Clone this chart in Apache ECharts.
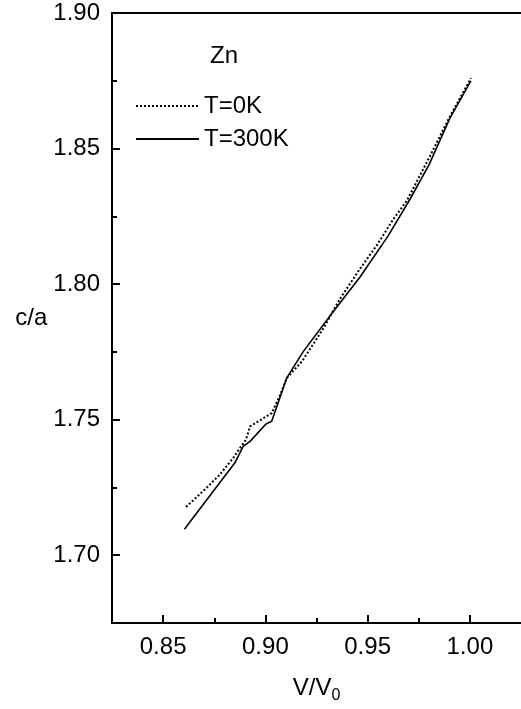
<!DOCTYPE html>
<html>
<head>
<meta charset="utf-8">
<script src="https://cdn.jsdelivr.net/npm/echarts@6/dist/echarts.min.js"></script>
<style>
  html, body { margin: 0; padding: 0; background: #fff; }
  #chart { width: 521px; height: 709px; }
</style>
</head>
<body>
<div id="chart"></div>
<script>
// c/a ratio of Zn versus relative volume V/V0
const t0X   = [0.8612, 0.8713, 0.8778, 0.8843, 0.8876, 0.8905, 0.8925, 0.9031, 0.9072, 0.9104, 0.9178, 0.9283, 0.9365, 0.9463, 0.9544, 0.9626, 0.9691, 0.9800, 0.9900, 1.0005];
const t0Y   = [1.7178, 1.7249, 1.7298, 1.7359, 1.7396, 1.7426, 1.7475, 1.7524, 1.7591, 1.7653, 1.7714, 1.7836, 1.7946, 1.8057, 1.8142, 1.8240, 1.8307, 1.8465, 1.8615, 1.8760];
const t300X = [0.8604, 0.8851, 0.8892, 0.8925, 0.9003, 0.9031, 0.9104, 0.9185, 0.9324, 0.9463, 0.9601, 0.9707, 0.9800, 0.9903, 1.0005];
const t300Y = [1.7096, 1.7341, 1.7402, 1.7420, 1.7484, 1.7494, 1.7653, 1.7751, 1.7891, 1.8026, 1.8179, 1.8313, 1.8440, 1.8613, 1.8750];

const xMajor = [0.85, 0.90, 0.95, 1.00];
const xMinor = [0.875, 0.925, 0.975];
const yMajor = [1.70, 1.75, 1.80, 1.85, 1.90];
const yMinor = [1.725, 1.775, 1.825, 1.875];

const seriesNames = ['T=0K', 'T=300K'];

const FONT = '"Liberation Sans", Arial, sans-serif';
const FS = 24;
const AX = { lineStyle: { color: '#000', width: 2 } };

const zip = (xs, ys) => xs.map((x, i) => [x, ys[i]]);

const chart = echarts.init(document.getElementById('chart'), null, { renderer: 'canvas' });

const xRange = { min: 0.825, max: 1.025 };
const yRange = { min: 1.675, max: 1.90 };

chart.setOption({
  animation: false,
  backgroundColor: '#fff',
  grid: { left: 112, top: 13, right: 0, bottom: 83 },
  legend: {
    orient: 'vertical',
    left: 135, top: 94, padding: 0,
    itemWidth: 63, itemHeight: 24, itemGap: 9,
    itemStyle: { opacity: 0, borderWidth: 0 },
    textStyle: { fontFamily: FONT, fontSize: FS, color: '#000', lineHeight: 24 },
    data: seriesNames
  },
  graphic: [{
    type: 'text', left: 210, top: 44,
    style: { text: 'Zn', font: FS + 'px ' + FONT, fill: '#000' }
  }],
  xAxis: [
    {
      type: 'value', ...xRange, position: 'bottom',
      axisLine: AX,
      axisTick: { inside: true, length: 8, lineStyle: { color: '#000', width: 2 }, customValues: xMajor },
      axisLabel: { color: '#000', fontFamily: FONT, fontSize: FS, margin: 12, customValues: xMajor,
                   formatter: v => v.toFixed(2) },
      splitLine: { show: false },
      name: '{a|V/V}{b|0}', nameLocation: 'middle', nameGap: 50,
      nameTextStyle: {
        rich: {
          a: { fontFamily: FONT, fontSize: FS, color: '#000' },
          b: { fontFamily: FONT, fontSize: 16, color: '#000', padding: [15, 0, 0, 0] }
        }
      }
    },
    {
      type: 'value', ...xRange, position: 'bottom', gridIndex: 0,
      axisLine: { show: false },
      axisTick: { inside: true, length: 5, lineStyle: { color: '#000', width: 2 }, customValues: xMinor },
      axisLabel: { show: false }, splitLine: { show: false }
    },
    {
      type: 'value', ...xRange, position: 'top', gridIndex: 0,
      axisLine: AX, axisTick: { show: false }, axisLabel: { show: false }, splitLine: { show: false }
    }
  ],
  yAxis: [
    {
      type: 'value', ...yRange, position: 'left',
      axisLine: AX,
      axisTick: { inside: true, length: 8, lineStyle: { color: '#000', width: 2 }, customValues: yMajor },
      axisLabel: { color: '#000', fontFamily: FONT, fontSize: FS, margin: 12, customValues: yMajor,
                   formatter: v => v.toFixed(2) },
      splitLine: { show: false },
      name: 'c/a', nameLocation: 'middle', nameRotate: 0, nameGap: 64,
      nameTextStyle: { fontFamily: FONT, fontSize: FS, color: '#000', align: 'right' }
    },
    {
      type: 'value', ...yRange, position: 'left', gridIndex: 0,
      axisLine: { show: false },
      axisTick: { inside: true, length: 5, lineStyle: { color: '#000', width: 2 }, customValues: yMinor },
      axisLabel: { show: false }, splitLine: { show: false }
    }
  ],
  series: [
    {
      name: seriesNames[0], type: 'line', symbol: 'none',
      data: zip(t0X, t0Y),
      lineStyle: { color: '#000', width: 2, type: [2, 2] },
      itemStyle: { color: '#000' }
    },
    {
      name: seriesNames[1], type: 'line', symbol: 'none',
      data: zip(t300X, t300Y),
      lineStyle: { color: '#000', width: 1.6, type: 'solid' },
      itemStyle: { color: '#000' }
    }
  ]
});
</script>
</body>
</html>
